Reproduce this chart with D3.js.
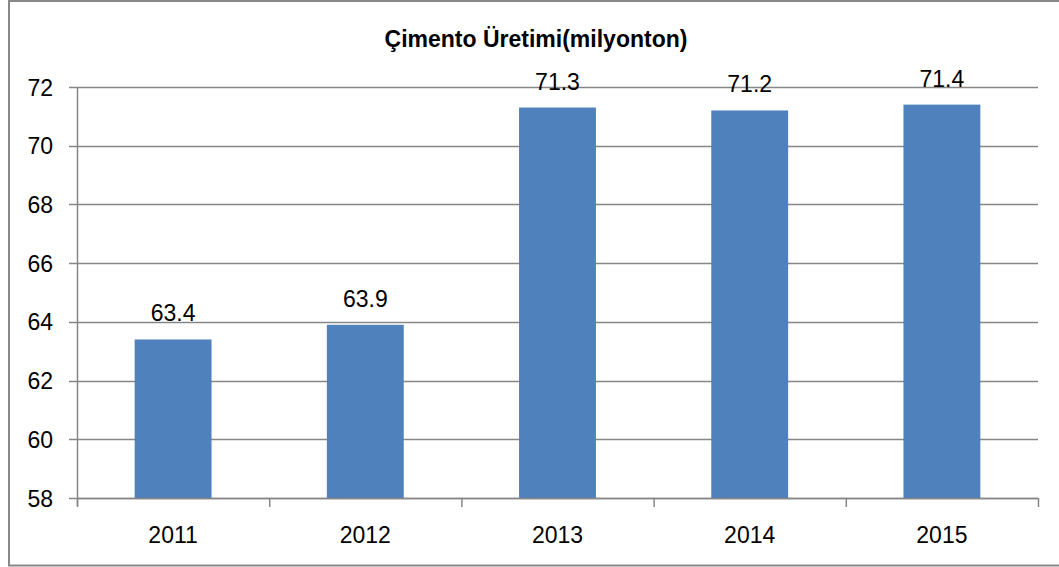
<!DOCTYPE html>
<html>
<head>
<meta charset="utf-8">
<script src="https://cdn.jsdelivr.net/npm/d3@7"></script>
<style>
  body { margin: 0; background: #fff; }
  svg { display: block; font-family: "Liberation Sans", Arial, sans-serif; }
</style>
</head>
<body>
<svg id="chart" width="1059" height="567"></svg>
<script>
// data
var years = ["2011", "2012", "2013", "2014", "2015"];
var uretim = [63.4, 63.9, 71.3, 71.2, 71.4];
var yTicks = [58, 60, 62, 64, 66, 68, 70, 72];
var baslik = "Çimento Üretimi(milyonton)";

var svg = d3.select("#chart");
var gridRenk = "#868686";

// outer frame (right side runs off the picture)
svg.append("rect")
    .attr("x", 9).attr("y", 1)
    .attr("width", 1060).attr("height", 564.5)
    .attr("fill", "none")
    .attr("stroke", "#888")
    .attr("stroke-width", 2);

var sol = 77, sag = 1038, ust = 87, alt = 498;

var x = d3.scaleBand()
    .domain(years)
    .range([sol, sag])
    .paddingInner(0.6)
    .paddingOuter(0.3);

var xCat = d3.scaleBand().domain(years).range([sol, sag]);

var y = d3.scaleLinear().domain([58, 72]).range([alt, ust]);

// horizontal grid lines
svg.append("g")
    .selectAll("line")
    .data(yTicks)
    .join("line")
    .attr("x1", sol - 8)
    .attr("x2", sag)
    .attr("y1", function (d) { return Math.round(y(d)) + 0.5; })
    .attr("y2", function (d) { return Math.round(y(d)) + 0.5; })
    .attr("stroke", gridRenk)
    .attr("stroke-width", 1.5);

// y axis line
svg.append("line")
    .attr("x1", sol + 0.5).attr("x2", sol + 0.5)
    .attr("y1", ust).attr("y2", alt + 8)
    .attr("stroke", gridRenk)
    .attr("stroke-width", 1.5);

// y tick labels
svg.append("g")
    .selectAll("text")
    .data(yTicks)
    .join("text")
    .attr("x", 53)
    .attr("y", function (d) { return y(d) + 8.5; })
    .attr("text-anchor", "end")
    .attr("font-size", "23px")
    .attr("fill", "#000")
    .text(function (d) { return d; });

// bars
svg.append("g")
    .selectAll("rect")
    .data(uretim)
    .join("rect")
    .attr("x", function (d, i) { return x(years[i]); })
    .attr("y", function (d) { return y(d); })
    .attr("width", x.bandwidth())
    .attr("height", function (d) { return alt - y(d); })
    .attr("fill", "#4f81bd");

// x axis line + ticks
svg.append("line")
    .attr("x1", sol).attr("x2", sag)
    .attr("y1", alt + 0.5).attr("y2", alt + 0.5)
    .attr("stroke", gridRenk)
    .attr("stroke-width", 1.5);

var xTickPos = years.map(function (d) { return xCat(d); }).concat([sag]);
svg.append("g")
    .selectAll("line")
    .data(xTickPos)
    .join("line")
    .attr("x1", function (d) { return d + 0.5; })
    .attr("x2", function (d) { return d + 0.5; })
    .attr("y1", alt)
    .attr("y2", alt + 9)
    .attr("stroke", gridRenk)
    .attr("stroke-width", 1.5);

// x labels
svg.append("g")
    .selectAll("text")
    .data(years)
    .join("text")
    .attr("x", function (d) { return x(d) + x.bandwidth() / 2; })
    .attr("y", 543)
    .attr("text-anchor", "middle")
    .attr("font-size", "23px")
    .text(function (d) { return d; });

// value labels
svg.append("g")
    .selectAll("text")
    .data(uretim)
    .join("text")
    .attr("x", function (d, i) { return x(years[i]) + x.bandwidth() / 2; })
    .attr("y", function (d) { return y(d) - 18; })
    .attr("text-anchor", "middle")
    .attr("font-size", "23px")
    .text(function (d) { return d.toFixed(1); });

// title
svg.append("text")
    .attr("x", 536)
    .attr("y", 47)
    .attr("text-anchor", "middle")
    .attr("font-size", "23px")
    .attr("font-weight", "bold")
    .text(baslik);
</script>
</body>
</html>
